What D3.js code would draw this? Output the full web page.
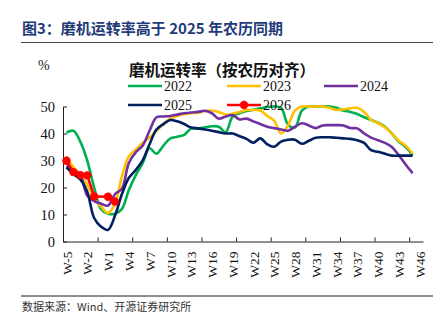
<!DOCTYPE html>
<html><head><meta charset="utf-8">
<script src="https://cdn.jsdelivr.net/npm/d3@7"></script>
<style>
body{margin:0;background:#fff;}
svg{display:block;}
</style></head>
<body>
<svg id="chart" width="444" height="325"></svg>
<script>
// ---- data ----
const categories = ["W-5","W-4","W-3","W-2","W-1","W0"].concat(d3.range(1,47).map(d=>"W"+d));
const seriesNames = ["2022","2023","2024","2025","2026"];
const s2022 = [40.3,41,37,30,20,12,10.3,10.3,12,19,24.5,29,34.5,32.5,35.5,38.2,38.8,39.5,41.8,41.8,42.3,42.7,42.5,40.5,46.3,47.5,48.3,48.8,49.3,49.8,50,49.5,43.3,42.2,48.5,50,50,50,50,49.5,48.5,48,47.2,46,45,44,42.5,40,37,35,32];
const s2023 = [31.5,27.5,25,21,16,13,10.5,14,24,31.5,34,36.5,38.5,41,43.5,45.5,46.5,47.2,47.5,47.7,48.3,48.5,48,47,47.3,48,48.7,48.7,48.5,46.5,44.8,40,43,48.5,50,50,50,50,49.5,48.7,49,49.3,49.5,48,45,43.8,42.3,40,37.3,35.5,32.5];
const s2024 = [28,26.5,24.5,17,15,14,13.3,17.5,19.5,29,33,35.5,41,46,46.3,46.5,47,47.5,47.8,48,48.4,47.5,45.5,46.3,46.8,45.2,45.5,44.5,43.5,42.5,42,41.5,41,42.5,43.8,43,42,43,43.1,43.1,43,42,41.9,40,38.5,37.5,36.5,35,32,28.5,25.3];
const s2025 = [27.5,25,23,18.4,8.7,5.5,4.3,9.5,17.5,23.5,26.5,30,36,41.5,43.5,45,44.5,43.5,42.2,41.9,41.5,41,40.5,40,40,39,38,36.6,38.2,36,35.1,37,37.7,37.7,36.2,37.3,38.4,38.6,38.6,38.4,38.2,38,37.5,36.5,33.8,33.2,32.5,31.8,31.8,31.8,31.8];
const s2026 = [29.9,25.7,24.6,24.5,16.7,null,16.6,14.8];
const yTicks = [0,10,20,30,40,50];
const colors = ["#00b050","#ffc000","#7030a0","#002060","#ff0000"];

const svg = d3.select("#chart");
const serif = "'Liberation Serif','Times New Roman',serif";
const cjk = "'Noto Sans CJK SC',sans-serif";

// header
svg.append("text").attr("x",22).attr("y",34).attr("font-family",cjk).attr("font-weight","bold")
  .attr("font-size",15).attr("fill","#1f3a78").text("图3：磨机运转率高于 2025 年农历同期");
svg.append("line").attr("x1",21).attr("x2",433).attr("y1",42.5).attr("y2",42.5).attr("stroke","#444").attr("stroke-width",1);
svg.append("line").attr("x1",21).attr("x2",433).attr("y1",296).attr("y2",296).attr("stroke","#8c8c8c").attr("stroke-width",2);
svg.append("text").attr("x",22).attr("y",311).attr("font-family",cjk).attr("font-size",11).attr("fill","#333")
  .text("数据来源：Wind、开源证券研究所");

// scales
const x = d3.scaleLinear().domain([0,categories.length]).range([63,423]);
const y = d3.scaleLinear().domain([0,50]).range([241.5,106.5]);
const cx = i => x(i+0.5);

// y axis
const yAxis = svg.append("g").attr("transform","translate(63,0)")
  .call(d3.axisLeft(y).tickValues(yTicks).tickSizeInner(-4).tickSizeOuter(0).tickPadding(8));
yAxis.select(".domain").attr("stroke","#222");
yAxis.selectAll(".tick line").attr("stroke","#222");
yAxis.selectAll("text").attr("font-family",serif).attr("font-size",14.5).attr("fill","#111");

svg.append("text").attr("x",38).attr("y",70).attr("font-family",serif).attr("font-size",14).attr("fill","#222").text("%");

// x axis ticks
const xTickAxis = svg.append("g").attr("transform","translate(0,241.5)")
  .call(d3.axisBottom(x).tickValues(d3.range(0,51,5)).tickSizeInner(-4).tickSizeOuter(0).tickFormat(""));
xTickAxis.select(".domain").attr("stroke","#222");
xTickAxis.selectAll(".tick line").attr("stroke","#222");
// x labels
const labelIdx = d3.range(0,categories.length,3);
const xLab = svg.append("g").attr("transform","translate(0,241.5)")
  .call(d3.axisBottom(x).tickValues(labelIdx.map(i=>i+0.5)).tickSize(0).tickFormat(d=>categories[d-0.5]));
xLab.select(".domain").remove();
xLab.selectAll("text").attr("font-family",serif).attr("font-size",13.5).attr("fill","#111")
  .attr("transform","rotate(-90)").attr("x",-10).attr("y",0).attr("dy","0.35em").attr("text-anchor","end");

// lines
const line = d3.line().x(d=>cx(d.i)).y(d=>y(d.v)).curve(d3.curveCatmullRom.alpha(0.5));
const all = [s2022,s2023,s2024,s2025];
all.forEach((s,k)=>{
  const pts = s.map((v,i)=>({i,v})).filter(d=>d.v!=null);
  svg.append("path").datum(pts).attr("d",line).attr("fill","none").attr("stroke",colors[k])
    .attr("stroke-width",2.6).attr("stroke-linejoin","round");
});
const p26 = s2026.map((v,i)=>({i,v})).filter(d=>d.v!=null);
svg.append("path").datum(p26).attr("d",d3.line().x(d=>cx(d.i)).y(d=>y(d.v)))
  .attr("fill","none").attr("stroke",colors[4]).attr("stroke-width",2.6);
svg.selectAll(".dot26").data(p26).enter().append("circle").attr("cx",d=>cx(d.i)).attr("cy",d=>y(d.v))
  .attr("r",4.2).attr("fill",colors[4]);

// chart title
svg.append("text").attr("x",222).attr("y",76).attr("text-anchor","middle").attr("font-family",cjk)
  .attr("font-weight","bold").attr("font-size",15.5).attr("fill","#111").text("磨机运转率（按农历对齐）");

// legend
const legPos = [[128,86],[227,86],[324,86],[128,105],[227,105]];
seriesNames.forEach((n,k)=>{
  const [lx,ly] = legPos[k];
  svg.append("line").attr("x1",lx).attr("x2",lx+34).attr("y1",ly).attr("y2",ly).attr("stroke",colors[k]).attr("stroke-width",2.6);
  if(k===4) svg.append("circle").attr("cx",lx+17).attr("cy",ly).attr("r",4.2).attr("fill",colors[k]);
  svg.append("text").attr("x",lx+36).attr("y",ly+5).attr("font-family",serif).attr("font-size",14).attr("fill","#111").text(n);
});
</script>
</body></html>
